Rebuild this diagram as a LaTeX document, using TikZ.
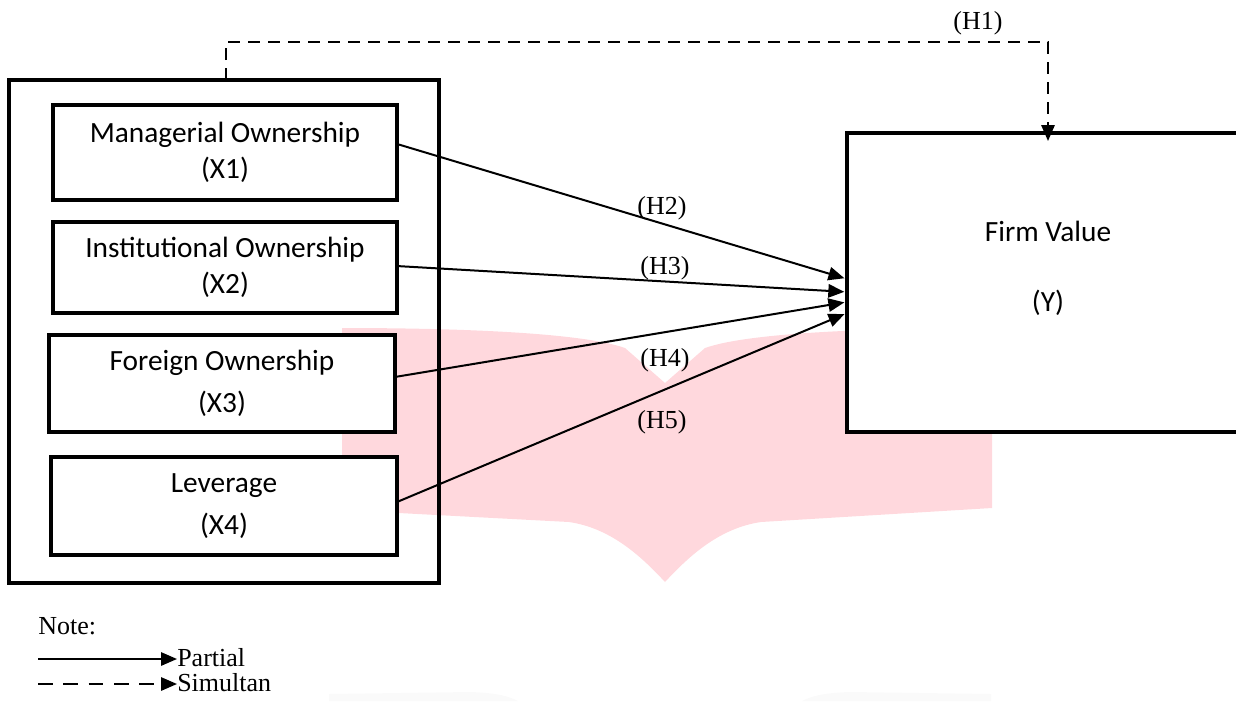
\documentclass[tikz,border=0pt]{standalone}
\usepackage{fontspec}
\setmainfont{Liberation Serif}
\newfontfamily\calibri{Carlito}
\usetikzlibrary{arrows.meta,calc}
\definecolor{wmpink}{RGB}{255,216,221}
\definecolor{wmgray}{RGB}{250,250,250}
\begin{document}
\begin{tikzpicture}[x=0.75pt,y=-0.75pt,
  varbox/.style={draw,line width=3pt,fill=white,inner sep=0pt,outer sep=0pt,align=center,font=\calibri\fontsize{22}{27}\selectfont},
  groupbox/.style={draw,line width=3pt,inner sep=0pt,outer sep=0pt},
  vartext/.style={align=center,inner sep=0pt,font=\calibri\fontsize{22}{27}\selectfont},
  hyp/.style={font=\fontsize{19.5}{23}\selectfont,inner sep=0pt},
  partialarrow/.style={line width=1.5pt,-{Triangle[length=12pt,width=10pt]}},
  simularrow/.style={line width=1.5pt,dash pattern=on 9pt off 6pt,-{Triangle[length=12pt,width=10pt]}},
]
\useasboundingbox (0,0) rectangle (1236,701);
\clip (0,0) rectangle (1236,701);
% watermark
\fill[wmpink] (342,328) .. controls (450,328) and (580,332) .. (625,348) -- (665,383) -- (705,348)
  .. controls (750,332) and (880,328) .. (992,328) -- (992,508) -- (761,522)
  .. controls (720,528) and (690,555) .. (665,582) .. controls (640,555) and (610,528) .. (569,522)
  -- (342,510) -- cycle;
\fill[wmgray] (329,701) -- (329,694) -- (470,692) .. controls (500,693) and (510,697) .. (518,701) -- cycle;
\fill[wmgray] (991,701) -- (991,694) -- (850,692) .. controls (820,693) and (810,697) .. (802,701) -- cycle;

% left group
\node[groupbox,minimum width=322.5pt,minimum height=377.25pt] (grp) at (224,331.5) {};
\node[varbox,minimum width=258pt,minimum height=71.25pt] (x1) at (225,152.5) {Managerial Ownership\\(X1)};
\node[varbox,minimum width=258pt,minimum height=68.25pt] (x2) at (225,267.5) {Institutional Ownership\\(X2)};
\node[varbox,minimum width=259.5pt,minimum height=72.75pt] (x3) at (222,383.5) {Foreign Ownership\\[4pt](X3)};
\node[varbox,minimum width=259.5pt,minimum height=73.5pt] (x4) at (224,506) {Leverage\\[4pt](X4)};

% firm value box (right side runs off the page)
\node[fill=white,inner sep=0pt,outer sep=0pt,minimum width=301.5pt,minimum height=224.25pt] (fv) at (1048,282.5) {};
\draw[line width=3pt] (fv.north east) -- (fv.north west) -- (fv.south west) -- (fv.south east);
\node[vartext] (fvt) at (1048,268) {Firm Value\\[25.5pt](Y)};

% connectors
\draw[partialarrow,shorten >=2pt] ([yshift=6.4pt]x1.east) -- ([yshift=2.6pt]fv.west);
\draw[partialarrow,shorten >=2pt] ([yshift=1.1pt]x2.east) -- ([yshift=-7.1pt]fv.west);
\draw[partialarrow,shorten >=2pt] ([yshift=4.9pt]x3.east) -- ([yshift=-14.6pt]fv.west);
\draw[partialarrow,shorten >=2pt] ([yshift=3pt]x4.east) -- ([yshift=-22.9pt]fv.west);
\draw[simularrow,shorten >=-6pt] ([xshift=1.5pt]grp.north) -- ++(0,-38) -| (fv.north);

% hypothesis labels
\node[hyp] (h1) at (978,23) {(H1)};
\node[hyp] (h2) at (662,208) {(H2)};
\node[hyp] (h3) at (665,268) {(H3)};
\node[hyp] (h4) at (665,360) {(H4)};
\node[hyp] (h5) at (662,422) {(H5)};

% legend
\node[hyp,anchor=west] (note) at (38,626) {Note:};
\coordinate (p0) at (38,659);
\node[hyp,anchor=west] (partial) at (177,658) {Partial};
\draw[partialarrow] (p0) -- (partial.west |- p0);
\coordinate (s0) at (38,684);
\node[hyp,anchor=west] (simul) at (177,683) {Simultan};
\draw[simularrow,dash pattern=on 11pt off 8pt] (s0) -- (simul.west |- s0);
\end{tikzpicture}
\end{document}
